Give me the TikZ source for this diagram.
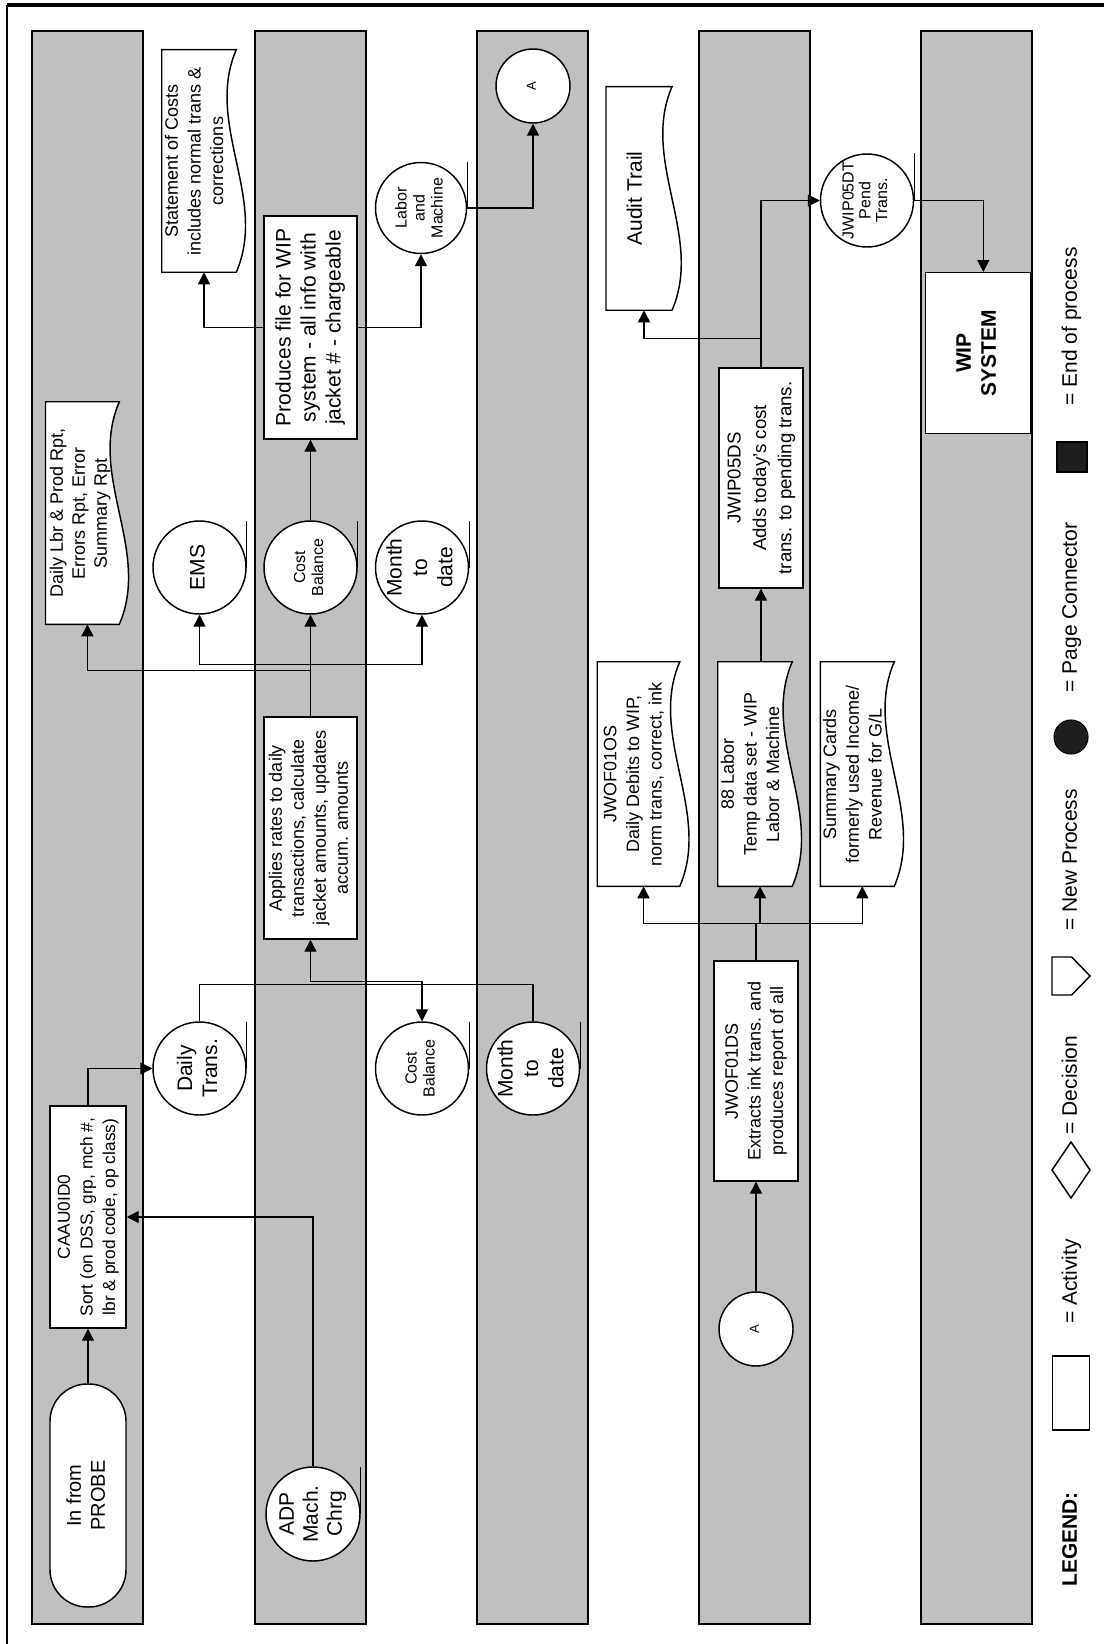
\documentclass[tikz,border=0pt]{standalone}
\usepackage{graphicx}
\usepackage{fontspec}
\setmainfont{Liberation Sans}
\usetikzlibrary{arrows.meta,calc}
\definecolor{lanegray}{HTML}{C0C0C0}
\definecolor{legdark}{HTML}{1E1E1E}
\newcommand\rtx[3]{\rotatebox{90}{\fontsize{#1}{#2}\selectfont\begin{tabular}{@{}c@{}}#3\end{tabular}}}
\newcommand\docshape[1]{\draw[docline] (#1.north east) -- (#1.north west) -- (#1.south west) -- (#1.south east) .. controls ($(#1.south east)+(32,-74)$) and ($(#1.north east)+(-32,74)$) .. (#1.north east) -- cycle;}
\newcommand\tapeline[2]{\draw[ln] (#1.east) -- ++(0,-#2);}
\begin{document}
\begin{tikzpicture}[x=0.75pt,y=-0.75pt,
  lane/.style={draw=black, fill=lanegray, line width=1.1pt},
  ln/.style={line width=1.1pt},
  arr/.style={line width=1.1pt, -{Triangle[length=9pt,width=9pt]}},
  darr/.style={line width=1.1pt, {Triangle[length=9pt,width=9pt]}-{Triangle[length=9pt,width=9pt]}},
  sz/.style 2 args={minimum width={#1*0.75pt}, minimum height={#2*0.75pt}},
  box/.style={rectangle, draw=black, fill=white, line width=1.1pt, inner sep=0pt},
  term/.style={rectangle, draw=black, fill=white, line width=1.1pt, inner sep=0pt, rounded corners=28pt},
  circ/.style={circle, draw=black, fill=white, line width=1.1pt, inner sep=0pt, minimum size={#1*1.5pt}},
  docbody/.style={rectangle, draw=none, inner sep=0pt},
  docline/.style={draw=black, fill=white, line width=1.1pt}]
\useasboundingbox (0,0) rectangle (1104,1644);
% frame
\draw[line width=2.6pt] (7,5) -- (1104,5);
\draw[line width=1.1pt] (7,5) -- (7,1644);
% lanes
\foreach \xl in {32,255,477,699,921} \draw[lane] (\xl,31) rectangle ++(111,1593);

% ---- nodes ----
\node[term, sz={76}{223}, label={center:\rtx{15pt}{18pt}{In from\\PROBE}}] (probe) at (88,1495.5) {};
\node[box, sz={76}{222}, label={center:\rtx{13pt}{17pt}{CAAU0ID0\\Sort (on DSS, grp, mch \#,\\lbr \& prod code, op class)}}] (caau) at (88,1217) {};
\node[circ=46.5, label={center:\rtx{15.75pt}{18.75pt}{Daily\\Trans.}}] (dailytrans) at (199.5,1068.5) {};
\node[circ=46.5, label={center:\rtx{12pt}{13.5pt}{Cost\\Balance}}] (costbal2) at (422,1068.5) {};
\node[circ=46.5, label={center:\rtx{15.75pt}{19pt}{Month\\to\\date}}] (mtd2) at (533,1068.5) {};
\node[circ=47, label={center:\rtx{15.75pt}{18pt}{ADP\\Mach.\\Chrg}}] (adp) at (313,1514) {};
\node[box, sz={93.4}{222}, label={center:\rtx{13.5pt}{16.5pt}{Applies rates to daily\\transactions, calculate\\jacket amounts, updates\\accum. amounts}}] (applies) at (310.5,828) {};

\node[docbody, sz={73.3}{222}] (dailylbr) at (82.4,513) {};
\docshape{dailylbr}
\node (dailylbr-t) at ($(dailylbr)+(-2,0)$) {\rtx{13.5pt}{16.5pt}{Daily Lbr \& Prod Rpt,\\Errors Rpt, Error\\Summary Rpt}};

\node[circ=46.5, label={center:\rtx{15.75pt}{18.75pt}{EMS}}] (ems) at (199.5,567.5) {};
\node[circ=46.5, label={center:\rtx{12pt}{13.5pt}{Cost\\Balance}}] (costbal1) at (310.5,567.5) {};
\node[circ=46.5, label={center:\rtx{15.75pt}{19pt}{Month\\to\\date}}] (mtd1) at (422,567.5) {};
\node[box, sz={93}{223}, label={center:\rtx{15.75pt}{18.75pt}{Produces file for WIP\\system - all info with\\jacket \# - chargeable}}] (produces) at (310.5,327.5) {};

\node[docbody, sz={74}{222}] (stmt) at (199,161) {};
\docshape{stmt}
\node (stmt-t) at ($(stmt)+(-3,0)$) {\rtx{13.5pt}{17pt}{Statement of Costs\\includes normal trans \&\\corrections}};

\node[circ=45.5, label={center:\rtx{12pt}{13.5pt}{Labor\\and\\Machine}}] (labmach) at (421,208) {};
\node[circ=37, label={center:\rtx{9.75pt}{11pt}{A}}] (conA1) at (533,86) {};
\node[circ=37, label={center:\rtx{9.75pt}{11pt}{A}}] (conA2) at (756,1329) {};
\node[box, sz={84}{220}, label={center:\rtx{13.5pt}{17pt}{JWOF01DS\\Extracts ink trans. and\\produces report of all}}] (jwof01ds) at (756,1071) {};

\node[docbody, sz={82}{224}] (jwof01os) at (638.5,774) {};
\docshape{jwof01os}
\node (jwof01os-t) at ($(jwof01os)+(-4,0)$) {\rtx{13.5pt}{17pt}{JWOF01OS\\Daily Debits to WIP,\\norm trans, correct, ink}};
\node[docbody, sz={74}{224}] (labor88) at (755,774) {};
\docshape{labor88}
\node (labor88-t) at ($(labor88)+(-3,0)$) {\rtx{13.5pt}{17pt}{88 Labor\\Temp data set - WIP\\Labor \& Machine}};
\node[docbody, sz={73.4}{224}] (summary) at (857.3,774) {};
\docshape{summary}
\node (summary-t) at ($(summary)+(-3,0)$) {\rtx{13.5pt}{17pt}{Summary Cards\\formerly used Income/\\Revenue for G/L}};

\node[box, sz={84}{220}, label={center:\rtx{14pt}{19pt}{JWIP05DS\\Adds today's cost\\trans. to pending trans.}}] (jwip05ds) at (761,478) {};
\node[docbody, sz={65.5}{223}] (audit) at (639,198.5) {};
\docshape{audit}
\node (audit-t) at ($(audit)+(-2,0)$) {\rtx{15.75pt}{18pt}{Audit Trail}};
\node[circ=46.5, label={center:\rtx{12pt}{12.5pt}{JWIP05DT\\Pend\\Trans.}}] (jwip05dt) at (867,200.5) {};
\node[box, sz={105.4}{160.5}, label={center:\rtx{15.75pt}{18.75pt}{\bfseries WIP\\\bfseries SYSTEM}}] (wip) at (978.3,353) {};

% tape lines
\tapeline{dailytrans}{46.5}
\tapeline{costbal2}{46.5}
\tapeline{mtd2}{46.5}
\tapeline{adp}{47}
\tapeline{ems}{46.5}
\tapeline{costbal1}{46.5}
\tapeline{mtd1}{46.5}
\tapeline{labmach}{45.5}
\tapeline{jwip05dt}{47}

% ---- connectors ----
\draw[arr] (probe.north) -- (caau.south);
\draw[arr] (caau.north) |- (dailytrans.west);
\draw[arr] (adp.north) |- (caau.east);
\draw[ln] (dailytrans.north) -- ++(0,-37) -| (mtd2.north);
\draw[darr] (applies.south) -- ++(0,42) -| (costbal2.north);
\draw[arr] (applies.north) -- (costbal1.south);
\draw[arr] (applies.north) -- ++(0,-46) -| ($(dailylbr.south)+(5,0)$);
\draw[arr] (applies.north) -- ++(0,-52) -| (ems.south);
\draw[arr] (applies.north) -- ++(0,-52) -| (mtd1.south);
\draw[arr] (costbal1.north) -- (produces.south);
\draw[arr] (produces.west) -| ($(stmt.south)+(5,0)$);
\draw[arr] (produces.east) -| (labmach.south);
\draw[arr] (labmach.east) -| (conA1.south);
\draw[arr] (conA2.north) -- (jwof01ds.south);
\draw[arr] (jwof01ds.north) -- ++(0,-37) -| ($(jwof01os.south)+(5,0)$);
\draw[arr] (jwof01ds.north) -- ++(0,-37) -| ($(labor88.south)+(5,0)$);
\draw[arr] (jwof01ds.north) -- ++(0,-37) -| ($(summary.south)+(5,0)$);
\draw[arr] (jwip05ds.south |- labor88.north) -- (jwip05ds.south);
\draw[arr] (jwip05ds.north) -- ++(0,-29) -| ($(audit.south)+(5,0)$);
\draw[arr] (jwip05ds.north) |- (jwip05dt.west);
\draw[arr] (jwip05dt.east) -| ($(wip.north)+(5,0)$);

% ---- legend ----
\node (lg) at (1072,1539.5) {\rtx{15.75pt}{18pt}{\bfseries LEGEND:}};
\node[box, sz={37}{74}] (lgact) at (1071,1393) {};
\node (lgact-t) at (1072,1281.5) {\rtx{15.75pt}{18pt}{= Activity}};
\draw[ln, fill=white] (1071,1142) -- (1090,1170) -- (1071,1198) -- (1052,1170) -- cycle;
\node (lgdec-t) at (1072,1085) {\rtx{15.75pt}{18pt}{= Decision}};
\draw[ln, fill=white] (1052,957) -- (1071.7,957) -- (1090,976) -- (1071.7,995) -- (1052,995) -- cycle;
\node (lgnp-t) at (1072,860) {\rtx{15.75pt}{18pt}{= New Process}};
\node[circle, draw=black, fill=legdark, line width=0.8pt, minimum size={34*0.75pt}, inner sep=0pt] (lgpc) at (1071,737) {};
\node (lgpc-t) at (1072,607.5) {\rtx{15.75pt}{18pt}{= Page Connector}};
\node[rectangle, draw=black, fill=legdark, line width=0.8pt, minimum size={30*0.75pt}, inner sep=0pt] (lgend) at (1072,457) {};
\node (lgend-t) at (1072,326.5) {\rtx{15.75pt}{18pt}{= End of process}};
\end{tikzpicture}
\end{document}
